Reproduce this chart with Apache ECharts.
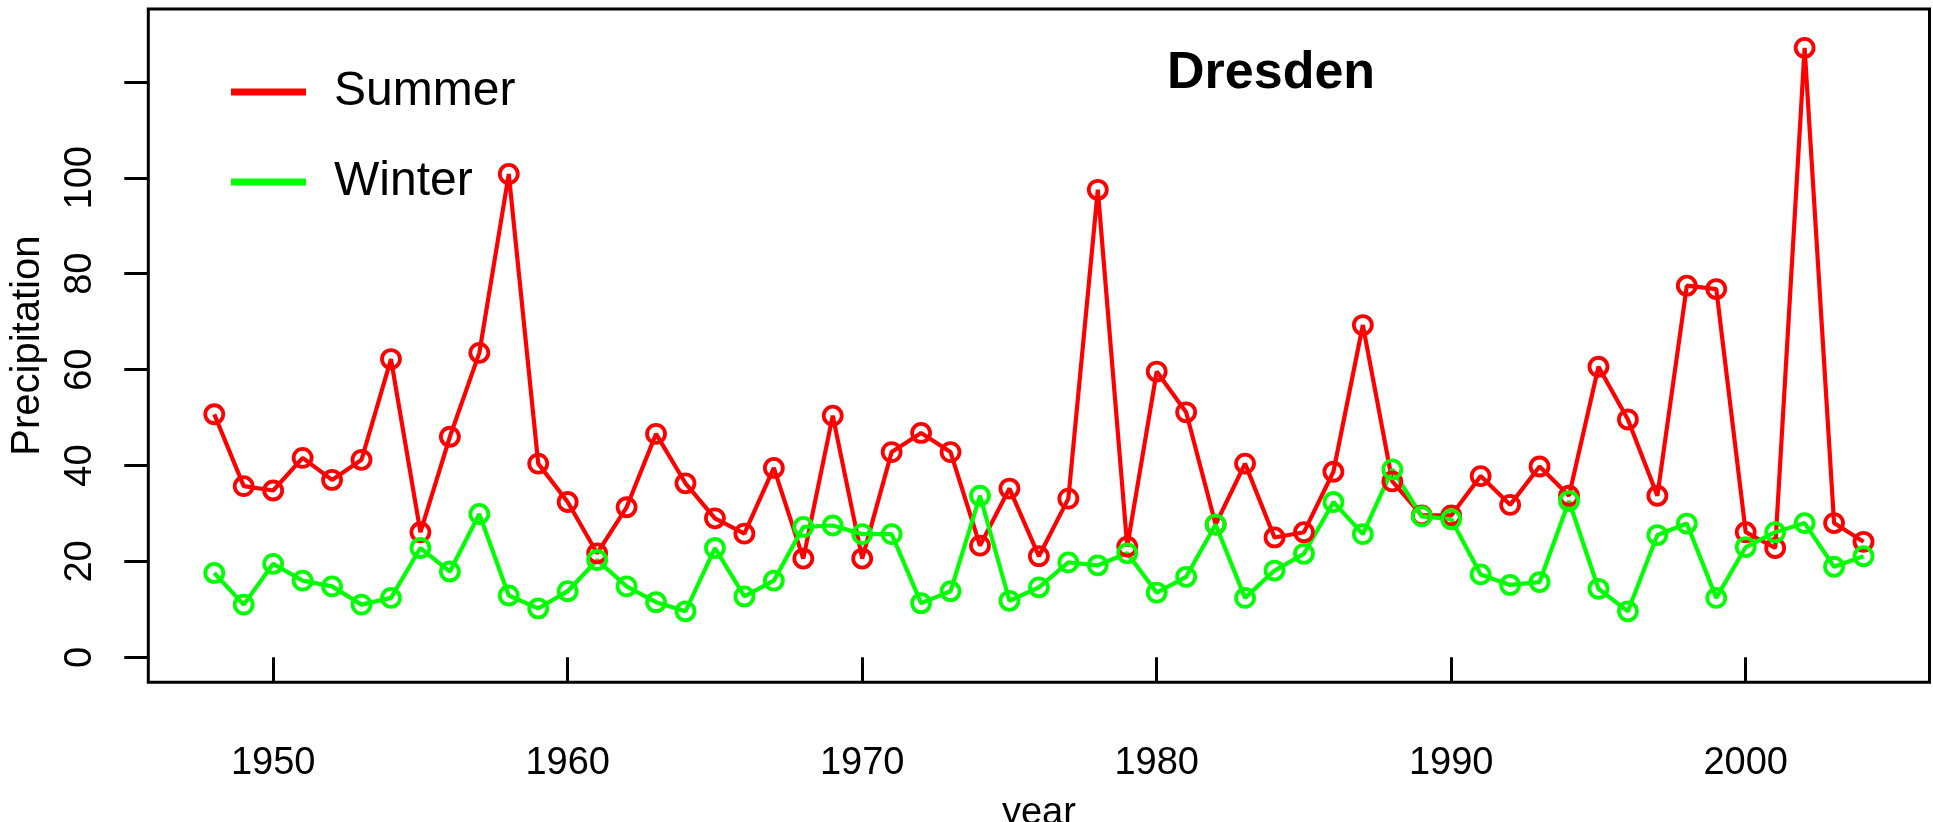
<!DOCTYPE html>
<html>
<head>
<meta charset="utf-8">
<script src="https://cdn.jsdelivr.net/npm/echarts@6/dist/echarts.min.js"></script>
<style>
html,body{margin:0;padding:0;background:#fff;}
#chart{width:1933px;height:822px;}
</style>
</head>
<body>
<div id="chart"></div>
<script>
const years = [1948,1949,1950,1951,1952,1953,1954,1955,1956,1957,1958,1959,1960,1961,1962,1963,1964,1965,1966,1967,1968,1969,1970,1971,1972,1973,1974,1975,1976,1977,1978,1979,1980,1981,1982,1983,1984,1985,1986,1987,1988,1989,1990,1991,1992,1993,1994,1995,1996,1997,1998,1999,2000,2001,2002,2003,2004];
const summer = [50.7,35.7,34.8,41.6,37.0,41.2,62.2,26.1,46.0,63.5,100.8,40.4,32.4,21.7,31.3,46.6,36.3,29.0,25.8,39.5,20.6,50.4,20.6,42.8,46.8,42.8,23.3,35.2,21.1,33.1,97.5,23.1,59.6,51.1,27.7,40.4,25.0,26.1,38.7,69.3,36.7,29.6,29.6,37.8,31.8,39.8,33.7,60.6,49.6,33.7,77.5,76.8,26.1,22.8,127.1,28.0,24.1];
const winter = [17.6,11.0,19.5,16.0,14.8,11.0,12.4,22.8,17.9,29.9,12.9,10.2,13.8,20.3,14.8,11.5,9.6,22.8,12.7,16.0,27.2,27.5,25.7,25.7,11.3,13.8,33.7,11.8,14.6,19.8,19.2,21.7,13.5,16.8,27.7,12.4,18.1,21.6,32.4,25.7,39.2,29.4,28.8,17.3,15.1,15.7,32.6,14.3,9.6,25.5,27.9,12.4,23.0,26.1,28.0,18.9,21.1];
const xTickValues = [1950,1960,1970,1980,1990,2000];
const yTickValues = [0,20,40,60,80,100,120];
const yLabelValues = [0,20,40,60,80,100];
const seriesNames = ['Summer','Winter'];
const seriesColors = ['#ff0000','#00ff00'];
const titleText = 'Dresden';
const xName = 'year';
const yName = 'Precipitation';

const FONT = 'Liberation Sans, Arial, Helvetica, sans-serif';
const chart = echarts.init(document.getElementById('chart'), null, {renderer:'canvas'});

function makeSeries(name, vals, color){
  return {
    name: name,
    type: 'line',
    data: years.map((y,i)=>[y, vals[i]]),
    symbol: 'circle',
    symbolSize: 18,
    itemStyle: {color: 'rgba(0,0,0,0)', borderColor: color, borderWidth: 3.8},
    lineStyle: {color: color, width: 4.2},
    emphasis: {disabled: true},
    z: 3
  };
}

const option = {
  animation: false,
  backgroundColor: '#ffffff',
  title: {
    text: titleText,
    left: 1167,
    top: 48,
    padding: 0,
    textStyle: {fontFamily: FONT, fontSize: 52, fontWeight: 'bold', color: '#000'}
  },
  legend: {
    orient: 'vertical',
    left: 231,
    top: 62,
    padding: 0,
    itemWidth: 75,
    itemHeight: 7,
    itemGap: 30,
    selectedMode: false,
    textStyle: {fontFamily: FONT, fontSize: 48, lineHeight: 48, color: '#000', padding: [12,0,0,23]},
    data: seriesNames.map((n,i)=>({name:n, icon:'rect', itemStyle:{color: seriesColors[i], borderWidth:0}}))
  },
  grid: {
    left: 148.3, right: 3.5, top: 9, bottom: 139.7,
    show: true, borderColor: '#000', borderWidth: 3, backgroundColor: 'transparent',
    containLabel: false,
    outerBoundsMode: 'none'
  },
  xAxis: {
    type: 'value',
    min: 1945.76,
    max: 2006.24,
    name: xName,
    nameLocation: 'middle',
    nameGap: 112,
    nameTextStyle: {fontFamily: FONT, fontSize: 38, color: '#000'},
    axisLine: {show: false},
    splitLine: {show: false},
    axisTick: {show: true, inside: false, length: 24, lineStyle: {color:'#000', width: 3}, customValues: xTickValues},
    axisLabel: {show: true, margin: 62, fontFamily: FONT, fontSize: 38, color: '#000', customValues: xTickValues, formatter: v => String(v)}
  },
  yAxis: {
    type: 'value',
    min: -5.2,
    max: 135.2,
    name: yName,
    nameLocation: 'middle',
    nameGap: 100,
    nameTextStyle: {fontFamily: FONT, fontSize: 40, color: '#000'},
    axisLine: {show: false},
    splitLine: {show: false},
    axisTick: {show: true, inside: false, length: 24, lineStyle: {color:'#000', width: 3}, customValues: yTickValues},
    axisLabel: {show: true, rotate: 90, margin: 49, fontFamily: FONT, fontSize: 38, color: '#000', customValues: yLabelValues, formatter: v => String(v)}
  },
  series: [
    makeSeries(seriesNames[0], summer, seriesColors[0]),
    makeSeries(seriesNames[1], winter, seriesColors[1])
  ]
};
chart.setOption(option);
</script>
</body>
</html>
